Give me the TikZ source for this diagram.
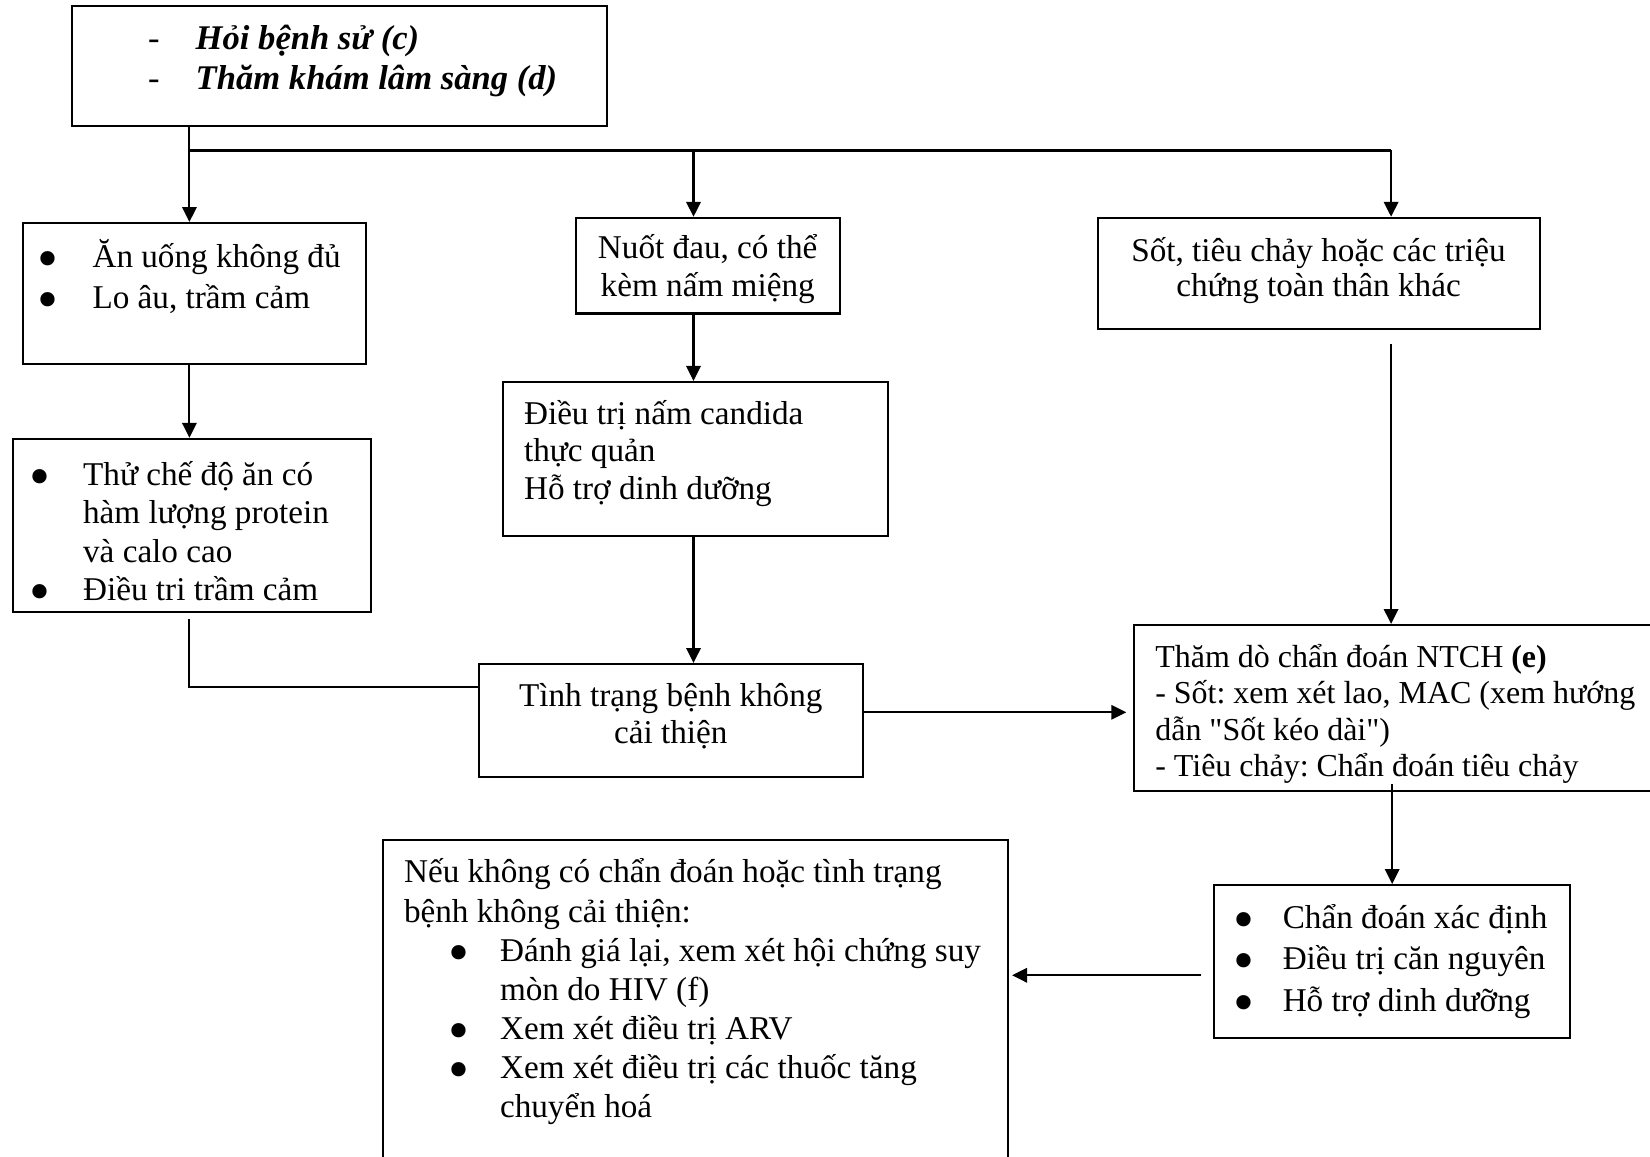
\documentclass[tikz,border=0pt]{standalone}
\usepackage{fontspec}
\setmainfont{Liberation Serif}
\usetikzlibrary{arrows.meta}
\frenchspacing

% one pixel of the scan
\newlength{\pxu}
\setlength{\pxu}{0.127mm}
% box text: width, height, top gap, lines
\newcommand{\boxtext}[4]{\parbox[c][#2\pxu][t]{#1\pxu}{\hbox{}\vskip#3\pxu\relax#4}}
\newcommand{\mitem}[3]{\makebox[#3\pxu][l]{\hspace*{#2\pxu}#1}}
\newcommand{\bigdot}{\smash{\raisebox{-3.95pt}{\scalebox{1.8}{\textbullet}}}}
\newcommand{\bitem}[2]{\mitem{\bigdot}{#1}{#2}}
\newcommand{\ind}[1]{\hspace*{#1\pxu}}

\begin{document}
\begin{tikzpicture}[x=0.127mm, y=-0.127mm, line width=0.75pt,
    box/.style={draw, inner sep=0pt, anchor=north west, font=\fontsize{12}{13.8}\selectfont},
    arr/.style={-{Triangle[length=5.4pt, width=5.2pt]}}]
  \useasboundingbox (0,0) rectangle (1650,1157);
  \fill[white] (0,0) rectangle (1650,1157);
  \clip (0,0) rectangle (1650,1157);

  % boxes
  \node[box, font=\fontsize{12.5}{14.4}\selectfont\bfseries\itshape] (top) at (70.5,5.3)
    {\boxtext{535.6}{119.9}{3.8}{\mitem{\upshape\mdseries -}{76.6}{124.2}Hỏi bệnh sử (c)\\
      \mitem{\upshape\mdseries -}{76.6}{124.2}Thăm khám lâm sàng (d)}};
  \node[box, font=\fontsize{12}{14.8}\selectfont] (eat) at (22.1,222)
    {\boxtext{343}{141}{3.4}{\bitem{14.8}{69.4}Ăn uống không đủ\\
      \bitem{14.8}{69.4}Lo âu, trầm cảm}};
  \node[box, font=\fontsize{12}{13.7}\selectfont] (pain) at (574.6,216.8)
    {\boxtext{264.1}{95.7}{3.2}{\centering Nuốt đau, có thể\\ kèm nấm miệng}};
  \node[box, font=\fontsize{12}{12.9}\selectfont] (fever) at (1096.5,216.8)
    {\boxtext{442}{111.5}{7.5}{\centering Sốt, tiêu chảy hoặc các triệu\\ chứng toàn thân khác}};
  \node[box, font=\fontsize{12}{13.9}\selectfont] (diet) at (11.6,437.8)
    {\boxtext{358.8}{173.6}{7.8}{\bitem{16.8}{70.5}Thử chế độ ăn có\\
      \ind{70.5}hàm lượng protein\\
      \ind{70.5}và calo cao\\
      \bitem{16.8}{70.5}Điều tri trầm cảm}};
  \node[box, font=\fontsize{12}{13.65}\selectfont] (cand) at (502,380.9)
    {\boxtext{385.1}{153.7}{4.4}{\ind{21}Điều trị nấm candida\\
      \ind{21}thực quản\\
      \ind{21}Hỗ trợ dinh dưỡng}};
  \node[box, font=\fontsize{12}{13.65}\selectfont] (noimp) at (477.7,663)
    {\boxtext{384.1}{112.5}{4.3}{\centering Tình trạng bệnh không\\ cải thiện}};
  \node[box, font=\fontsize{11.55}{13.1}\selectfont] (ntch) at (1133.3,624)
    {\boxtext{540}{166.3}{6.3}{\ind{21}Thăm dò chẩn đoán NTCH \textbf{(e)}\\
      \ind{21}- Sốt: xem xét lao, MAC (xem hướng\\
      \ind{21}dẫn \textquotedbl Sốt kéo dài\textquotedbl)\\
      \ind{21}- Tiêu chảy: Chẩn đoán tiêu chảy}};
  \node[box, font=\fontsize{12}{15}\selectfont] (diag) at (1213.3,884)
    {\boxtext{355.7}{152.5}{1.7}{\bitem{19}{68.4}Chẩn đoán xác định\\
      \bitem{19}{68.4}Điều trị căn nguyên\\
      \bitem{19}{68.4}Hỗ trợ dinh dưỡng}};
  \node[box, font=\fontsize{12}{14.15}\selectfont] (reeval) at (382,838.7)
    {\boxtext{625}{340}{4}{\ind{21}Nếu không có chẩn đoán hoặc tình trạng\\
      \ind{21}bệnh không cải thiện:\\
      \bitem{65.3}{117}Đánh giá lại, xem xét hội chứng suy\\
      \ind{117}mòn do HIV (f)\\
      \bitem{65.3}{117}Xem xét điều trị ARV\\
      \bitem{65.3}{117}Xem xét điều trị các thuốc tăng\\
      \ind{117}chuyển hoá}};

  % branch points
  \coordinate (busL) at (189.4,150.5);
  \coordinate (busM) at (693.5,150.5);
  \coordinate (busR) at (1391.1,150.5);
  \coordinate (joinM) at ([yshift=-24\pxu]noimp.north west);
  \coordinate (outM) at ([yshift=8\pxu]noimp.east);
  \coordinate (outD) at ([yshift=-14\pxu]diag.west);

  % connectors
  \draw (top.south -| busL) -- (busL) -- (busR);
  \draw[arr] (busL) -- (busL |- eat.north);
  \draw[arr] (busM) -- (busM |- pain.north);
  \draw[arr] (busR) -- (busR |- fever.north);
  \draw[arr] (eat.south -| busL) -- (busL |- diet.north);
  \draw[arr] (pain.south -| busM) -- (busM |- cand.north);
  \draw[arr] (cand.south -| busM) -- (busM |- noimp.north);
  \draw[shorten <=6\pxu] (diet.south -| busL) |- (joinM);
  \draw[arr, shorten <=14\pxu] (fever.south -| busR) -- (busR |- ntch.north);
  \draw[arr, shorten >=7\pxu] (outM) -- (outM -| ntch.west);
  \draw[arr, shorten <=-8\pxu] (ntch.south -| diag.north) -- (diag.north);
  \draw[arr, shorten <=12\pxu, shorten >=3\pxu] (outD) -- (outD -| reeval.east);
\end{tikzpicture}
\end{document}
